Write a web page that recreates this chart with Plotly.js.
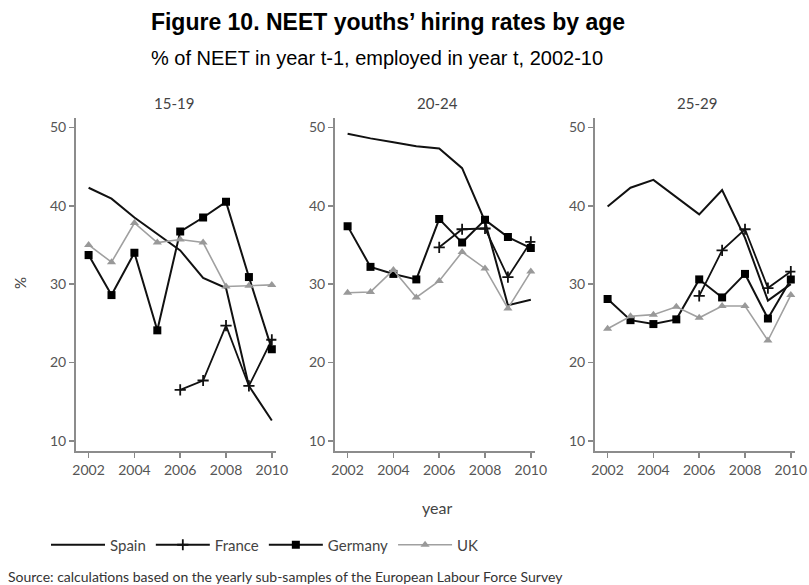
<!DOCTYPE html>
<html>
<head>
<meta charset="utf-8">
<script src="https://cdn.plot.ly/plotly-3.0.1.min.js"></script>
<style>
  html, body { margin: 0; padding: 0; background: #fff; }
  #chart { width: 809px; height: 585px; }
</style>
</head>
<body>
<div id="chart"></div>
<script>
// Survey years
var years = [2002, 2003, 2004, 2005, 2006, 2007, 2008, 2009, 2010];
var ageGroups = ['15-19', '20-24', '25-29'];
var countries = ['Spain', 'France', 'Germany', 'UK'];
var xTickVals = [2002, 2004, 2006, 2008, 2010];
var yTickVals = [10, 20, 30, 40, 50];

// Hiring rates (%), ages 15-19
var spain1519   = [42.3, 40.9, 38.5, 36.4, 34.3, 30.8, 29.5, 17.0, 12.6];
var france1519  = [null, null, null, null, 16.5, 17.7, 24.7, 17.0, 22.9];
var germany1519 = [33.7, 28.6, 34.0, 24.1, 36.7, 38.5, 40.5, 30.9, 21.7];
var uk1519      = [35.0, 32.8, 37.8, 35.3, 35.7, 35.3, 29.7, 29.8, 29.9];

// Hiring rates (%), ages 20-24
var spain2024   = [49.2, 48.6, 48.1, 47.6, 47.3, 44.8, 38.0, 27.3, 28.0];
var france2024  = [null, null, null, null, 34.7, 37.0, 37.1, 30.9, 35.4];
var germany2024 = [37.4, 32.2, 31.3, 30.6, 38.3, 35.3, 38.2, 36.0, 34.6];
var uk2024      = [28.9, 29.0, 31.8, 28.3, 30.4, 34.1, 32.0, 26.9, 31.6];

// Hiring rates (%), ages 25-29
var spain2529   = [39.9, 42.3, 43.3, 41.1, 38.9, 42.0, 35.9, 27.9, 30.0];
var france2529  = [null, null, null, null, 28.5, 34.3, 37.0, 29.5, 31.6];
var germany2529 = [28.1, 25.4, 24.9, 25.5, 30.6, 28.3, 31.3, 25.6, 30.6];
var uk2529      = [24.3, 25.9, 26.1, 27.1, 25.7, 27.2, 27.2, 22.8, 28.6];

var panels = [
  [spain1519, france1519, germany1519, uk1519],
  [spain2024, france2024, germany2024, uk2024],
  [spain2529, france2529, germany2529, uk2529]
];

var W = 809, H = 585;
function px(x) { return x / W; }
function py(y) { return 1 - y / H; }

// Per-country line/marker styling
var styles = {
  Spain:   { line: { color: '#111', width: 2 }, mode: 'lines' },
  France:  { line: { color: '#111', width: 1.8 }, mode: 'lines+markers',
             marker: { symbol: 'cross-thin', size: 8, color: '#111', line: { color: '#111', width: 1.8 } } },
  Germany: { line: { color: '#111', width: 2 }, mode: 'lines+markers',
             marker: { symbol: 'square', size: 8, color: '#000' } },
  UK:      { line: { color: '#a0a0a0', width: 1.6 }, mode: 'lines+markers',
             marker: { symbol: 'triangle-up', size: 8, color: '#999' } }
};

var traces = [];
panels.forEach(function (series, p) {
  var suffix = p === 0 ? '' : String(p + 1);
  series.forEach(function (vals, c) {
    var name = countries[c];
    var st = styles[name];
    var t = {
      type: 'scatter',
      x: years, y: vals, name: name,
      mode: st.mode, line: st.line,
      xaxis: 'x' + suffix, yaxis: 'y' + suffix,
      legendgroup: name, showlegend: p === 0,
      connectgaps: false, hoverinfo: 'skip'
    };
    if (st.marker) t.marker = st.marker;
    traces.push(t);
  });
});

var sans = 'Lato, "Open Sans", sans-serif';
var tickFont = { family: sans, size: 14, color: '#555' };
function xAxis(left, right) {
  return {
    domain: [px(left), px(right)], range: [2001.45, 2010.2],
    tickvals: xTickVals, ticks: 'outside', ticklen: 5, tickwidth: 1.5, tickcolor: '#888',
    showline: true, linecolor: '#8c8c8c', linewidth: 2, showgrid: false, zeroline: false,
    tickfont: tickFont, fixedrange: true
  };
}
function yAxis(anchor) {
  return {
    domain: [py(451), py(118)], range: [8.7, 51.2], anchor: anchor,
    tickvals: yTickVals, ticks: 'outside', ticklen: 5, tickwidth: 1.5, tickcolor: '#888',
    showline: true, linecolor: '#8c8c8c', linewidth: 2, showgrid: false, zeroline: false,
    tickfont: tickFont, fixedrange: true
  };
}
function label(text, x, y, size, extra) {
  var a = { text: text, xref: 'paper', yref: 'paper', x: px(x), y: py(y),
            xanchor: 'center', yanchor: 'middle', showarrow: false,
            font: { family: sans, size: size, color: '#444' } };
  for (var k in extra) a[k] = extra[k];
  return a;
}

var layout = {
  width: W, height: H,
  margin: { l: 0, r: 0, t: 0, b: 0 },
  paper_bgcolor: '#fff', plot_bgcolor: '#fff',
  showlegend: true,
  title: {
    text: '<b>Figure 10. NEET youths’ hiring rates by age</b>',
    font: { family: 'Arial, "Liberation Sans", sans-serif', size: 23, color: '#000' },
    x: px(388), xanchor: 'center', y: py(22), yanchor: 'middle', yref: 'container'
  },
  xaxis: xAxis(76, 276.4),
  yaxis: yAxis('x'),
  xaxis2: xAxis(335, 535.4),
  yaxis2: yAxis('x2'),
  xaxis3: xAxis(595, 795.4),
  yaxis3: yAxis('x3'),
  legend: {
    orientation: 'h', x: px(46), xanchor: 'left', y: py(545), yanchor: 'middle',
    font: { family: sans, size: 15, color: '#444' },
    itemwidth: 54, bgcolor: 'rgba(0,0,0,0)', traceorder: 'normal'
  },
  annotations: [
    label('% of NEET in year t-1, employed in year t, 2002-10', 377, 58, 20,
          { font: { family: 'Arial, "Liberation Sans", sans-serif', size: 20, color: '#000' } }),
    label(ageGroups[0], 174, 103, 15),
    label(ageGroups[1], 437, 103, 15),
    label(ageGroups[2], 697, 103, 15),
    label('%', 20, 283, 15, { textangle: -90 }),
    label('year', 437, 507, 16),
    label('Source: calculations based on the yearly sub-samples of the European Labour Force Survey',
          6, 576, 14, { xanchor: 'left', font: { family: sans, size: 14, color: '#333' } })
  ]
};

Plotly.newPlot('chart', traces, layout, { displayModeBar: false, staticPlot: true });
</script>
</body>
</html>
